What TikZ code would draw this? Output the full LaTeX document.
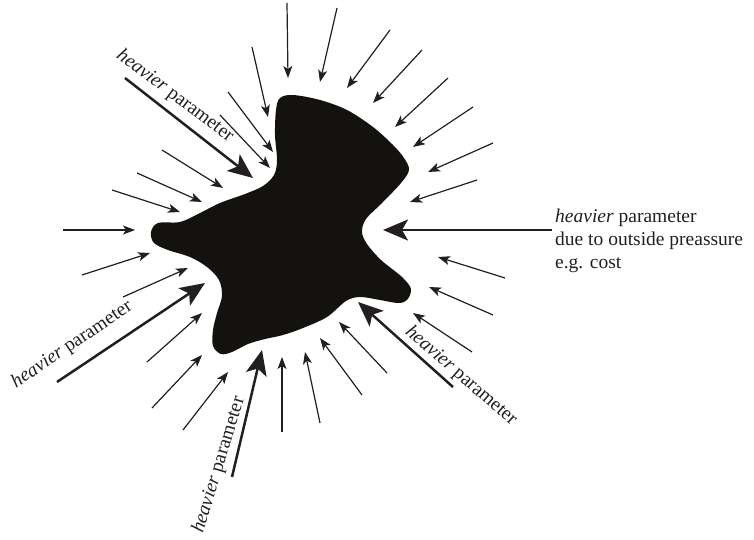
\documentclass[tikz,border=0pt]{standalone}
\usepackage{fontspec}
\setmainfont{Liberation Serif}
\usetikzlibrary{arrows.meta}
\definecolor{ink}{RGB}{35,31,32}
\definecolor{blobc}{RGB}{20,18,15}
\begin{document}
\begin{tikzpicture}[x=1pt,y=-1pt,
  thinarr/.style={draw=ink, line width=1.2pt, -{Stealth[length=12pt,width=9pt,inset=3pt]}},
  thickarr/.style={draw=ink, line width=2.5pt, -{Stealth[length=25pt,width=21pt,inset=6pt]}},
  lbl/.style={font=\fontsize{19.5}{23}\selectfont, text=ink, inner sep=0pt}]
\useasboundingbox (0,0) rectangle (754,540);

% blob
\fill[blobc] plot[smooth cycle, tension=0.55] coordinates {
  (280,98) (293,95) (320,100) (347,110) (373,127) (393,145) (404,158) (409,170)
  (401,183) (382,203) (366,219) (362,232) (367,244) (381,260) (402,277) (411,289)
  (407,300) (398,303) (380,300) (360,297) (346,301) (327,317) (303,328) (283,335)
  (265,339) (248,344) (232,352) (221,354) (213,346) (213,330) (217,313) (222,296)
  (219,280) (207,267) (190,257) (168,250) (154,243) (151,232) (158,223) (180,222)
  (198,214) (220,203) (245,194) (263,186) (274,175) (277,160) (275,135) (276,110)};

% thin arrows
\foreach \i/\a/\b/\c/\d in {
  1/252/47/268/117, 2/287/3/288/78, 3/337/8/320/82, 4/390/30/347/88,
  5/422/50/373/103, 6/448/78/395/127, 7/473/107/413/147, 8/493/143/428/172,
  9/477/180/410/202, 10/505/278/438/257, 11/493/315/429/287, 12/472/352/413/313,
  13/387/373/339/322, 14/362/395/320/338, 15/320/423/305/352, 16/282/432/282/357,
  17/183/430/228/372, 18/152/408/202/355, 19/147/362/202/313, 20/123/297/188/268,
  21/82/275/150/253, 22/63/230/135/230, 23/112/190/180/212, 24/137/173/202/202,
  25/162/150/223/188, 26/220/115/270/168, 27/228/92/273/152}{
  \coordinate (t\i) at (\a,\b);
  \coordinate (h\i) at (\c,\d);
  \draw[thinarr] (t\i) -- (h\i);
}

% thick arrows
\foreach \i/\a/\b/\c/\d in {
  A/125/78/253/178, B/552/230/383/230, C/453/387/358/302,
  D/232/477/262/350, E/57/382/205/283}{
  \coordinate (T\i) at (\a,\b);
  \coordinate (H\i) at (\c,\d);
  \draw[thickarr] (T\i) -- (H\i);
}

% labels
\node[lbl, rotate=-37] (l1) at (175,96) {\textit{heavier} parameter};
\node[lbl, rotate=34] (l2) at (72,345) {\textit{heavier} parameter};
\node[lbl, rotate=73] (l3) at (219,465) {\textit{heavier} parameter};
\node[lbl, rotate=-41] (l4) at (461,376) {\textit{heavier} parameter};

\node[lbl, anchor=base west] (r1) at (555,222) {\textit{heavier} parameter};
\node[lbl, anchor=base west] (r2) at (555,245) {due to outside preassure};
\node[lbl, anchor=base west] (r3) at (555,268) {e.g. cost};
\end{tikzpicture}
\end{document}
